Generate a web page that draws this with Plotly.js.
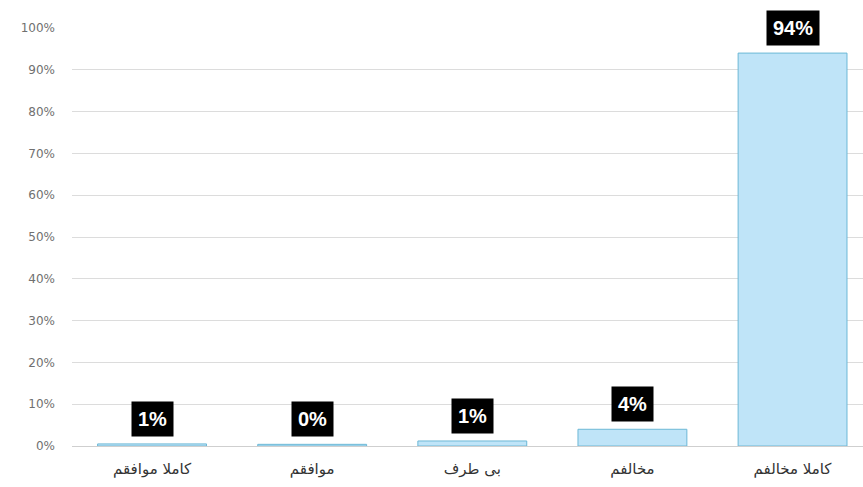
<!DOCTYPE html>
<html><head><meta charset="utf-8">
<script src="https://cdn.plot.ly/plotly-3.0.1.min.js"></script>
<style>html,body{margin:0;padding:0;background:#fff}#c{width:863px;height:487px}</style>
</head><body><div id="c"></div>
<script>
const categories = ["کاملا موافقم", "موافقم", "بی طرف", "مخالفم", "کاملا مخالفم"];
const values = [0.5, 0.4, 1.2, 4, 94];
const labels = ["1%", "0%", "1%", "4%", "94%"];
const tickVals = [0, 10, 20, 30, 40, 50, 60, 70, 80, 90, 100];
const tickText = ["0%", "10%", "20%", "30%", "40%", "50%", "60%", "70%", "80%", "90%", "100%"];

const trace = {
  type: 'bar', x: categories, y: values, width: 0.68,
  marker: {color: '#bfe4f8', line: {color: '#6cb8d6', width: 1}},
  hoverinfo: 'skip'
};
const annotations = categories.map((c, i) => ({
  x: c, y: values[i], xref: 'x', yref: 'y', yanchor: 'bottom', yshift: 7,
  text: '<b>' + labels[i] + '</b>', showarrow: false,
  bgcolor: '#000', borderpad: 6,
  font: {family: 'Arial, Liberation Sans, sans-serif', size: 20, color: '#fff'}
}));
Plotly.newPlot('c', [trace], {
  width: 863, height: 487,
  margin: {l: 72, r: 0, t: 28, b: 41},
  paper_bgcolor: '#fff', plot_bgcolor: '#fff',
  showlegend: false,
  xaxis: {range: [-0.5, 4.44], showgrid: false, zeroline: false, showline: false, ticks: '',
    ticklabelstandoff: 12,
    tickfont: {family: 'DejaVu Sans, sans-serif', size: 15, color: '#333333'}},
  yaxis: {range: [0, 100], tickvals: tickVals, ticktext: tickText, showgrid: true,
    gridcolor: '#dcdcdc', gridwidth: 1, zeroline: true, zerolinecolor: '#cfcfcf', zerolinewidth: 1,
    ticks: '', ticklen: 0, ticklabelstandoff: 16,
    tickfont: {family: 'DejaVu Sans, sans-serif', size: 12, color: '#707070'}},
  annotations: annotations
}, {displayModeBar: false, staticPlot: true});
</script></body></html>
